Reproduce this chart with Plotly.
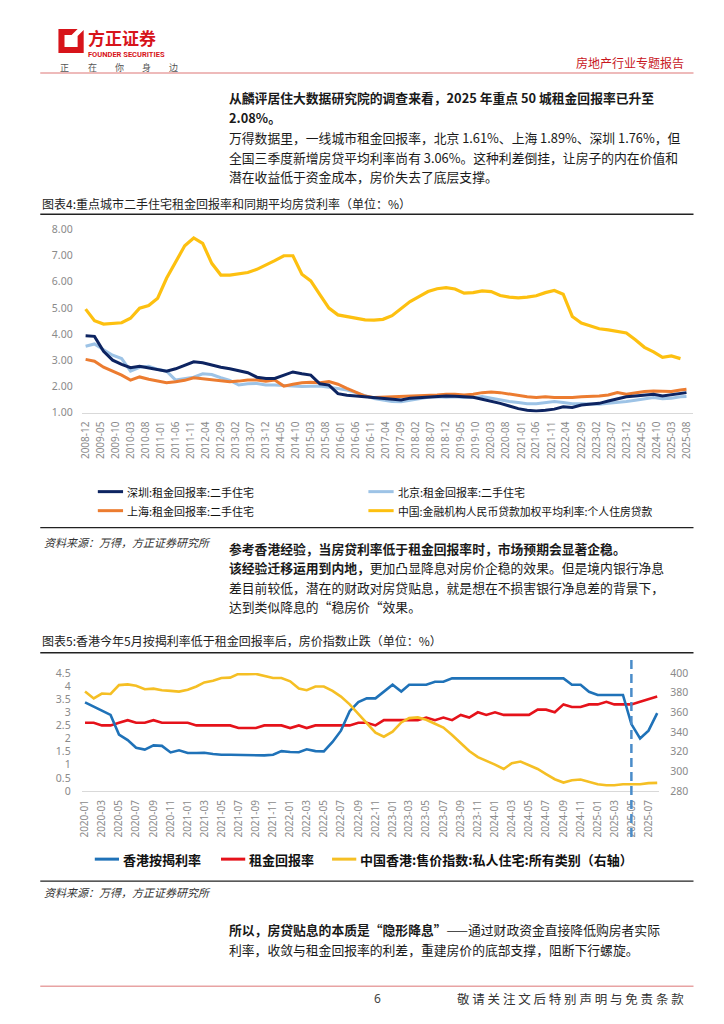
import pandas as pd
import plotly.graph_objects as go

W, H = 724, 1024
SHIFT, SCALE = 15, 0.985


def X(p):
    return (p - SHIFT) / SCALE / W


def Y(p):
    return 1 - (p - SHIFT) / SCALE / H


CJK = "Noto Sans CJK SC"

# ---- 图表4 数据 (季度取样) ----
q_dates = pd.date_range("2008-12-01", "2025-06-01", freq="3MS")
rent_dates = list(q_dates) + [pd.Timestamp("2025-08-01")]

mortgage_rate = [4.95, 4.51, 4.38, 4.41, 4.43, 4.60, 4.99, 5.09, 5.37, 6.13,
                 6.76, 7.37, 7.67, 7.46, 6.70, 6.25, 6.25, 6.30, 6.35, 6.47,
                 6.63, 6.80, 6.99, 6.99, 6.28, 6.03, 5.50, 4.99, 4.73, 4.67,
                 4.58, 4.54, 4.53, 4.56, 4.70, 4.99, 5.24, 5.43, 5.62, 5.73,
                 5.77, 5.72, 5.56, 5.58, 5.65, 5.62, 5.47, 5.41, 5.38, 5.41,
                 5.46, 5.58, 5.66, 5.52, 4.67, 4.42, 4.32, 4.20, 4.16, 4.10,
                 4.04, 3.78, 3.49, 3.32, 3.11, 3.16, 3.06]

shenzhen = [3.93, 3.91, 3.34, 3.00, 2.84, 2.71, 2.77, 2.71, 2.65, 2.58,
            2.67, 2.81, 2.94, 2.90, 2.81, 2.73, 2.67, 2.61, 2.52, 2.35,
            2.30, 2.30, 2.42, 2.55, 2.48, 2.43, 2.10, 2.05, 1.72, 1.66,
            1.63, 1.60, 1.55, 1.53, 1.51, 1.48, 1.55, 1.57, 1.60, 1.62,
            1.63, 1.62, 1.61, 1.58, 1.51, 1.44, 1.35, 1.25, 1.15, 1.09,
            1.06, 1.09, 1.13, 1.22, 1.19, 1.29, 1.32, 1.35, 1.44, 1.51,
            1.60, 1.63, 1.67, 1.70, 1.63, 1.67, 1.73, 1.76]

beijing = [3.53, 3.62, 3.40, 3.19, 3.06, 2.58, 2.73, 2.77, 2.65, 2.58,
           2.24, 2.30, 2.35, 2.48, 2.45, 2.33, 2.23, 2.05, 2.10, 2.11,
           2.05, 2.05, 2.04, 2.01, 1.99, 2.00, 2.01, 1.97, 1.92, 1.86,
           1.76, 1.63, 1.53, 1.48, 1.42, 1.41, 1.48, 1.53, 1.58, 1.60,
           1.58, 1.60, 1.57, 1.57, 1.61, 1.55, 1.47, 1.42, 1.38, 1.34,
           1.34, 1.38, 1.42, 1.38, 1.34, 1.34, 1.32, 1.32, 1.35, 1.38,
           1.42, 1.47, 1.53, 1.57, 1.53, 1.55, 1.60, 1.61]

shanghai = [3.03, 2.96, 2.73, 2.58, 2.43, 2.24, 2.36, 2.27, 2.20, 2.14,
            2.18, 2.23, 2.33, 2.29, 2.24, 2.22, 2.18, 2.20, 2.24, 2.24,
            2.20, 2.24, 2.01, 2.08, 2.14, 2.16, 2.14, 2.18, 2.08, 1.92,
            1.76, 1.63, 1.57, 1.58, 1.61, 1.62, 1.62, 1.63, 1.64, 1.67,
            1.70, 1.70, 1.67, 1.70, 1.76, 1.78, 1.76, 1.70, 1.66, 1.60,
            1.57, 1.60, 1.57, 1.57, 1.57, 1.60, 1.61, 1.63, 1.67, 1.76,
            1.70, 1.76, 1.80, 1.82, 1.80, 1.80, 1.86, 1.89]

# ---- 图表5 数据 (月度) ----
hk_months = pd.date_range("2020-01-01", "2025-08-01", freq="MS")

hk_mortgage = [3.38, 3.23, 3.06, 2.90, 2.15, 1.94, 1.65, 1.58, 1.74, 1.72,
               1.47, 1.55, 1.45, 1.45, 1.46, 1.41, 1.38, 1.38, 1.37, 1.36,
               1.36, 1.36, 1.38, 1.52, 1.49, 1.48, 1.59, 1.52, 1.51, 1.87,
               2.30, 3.04, 3.39, 3.53, 3.53, 3.78, 4.05, 3.79, 4.05, 4.05,
               4.05, 4.16, 4.16, 4.29, 4.29, 4.29, 4.29, 4.29, 4.29, 4.29,
               4.29, 4.29, 4.29, 4.29, 4.29, 4.29, 4.29, 4.05, 4.05, 3.78,
               3.66, 3.66, 3.66, 3.66, 2.55, 2.00, 2.30, 2.97]

hk_rent_yield = [2.6, 2.6, 2.5, 2.5, 2.6, 2.7, 2.6, 2.6, 2.7, 2.6,
                 2.6, 2.6, 2.6, 2.5, 2.5, 2.5, 2.5, 2.5, 2.4, 2.4,
                 2.4, 2.5, 2.5, 2.5, 2.4, 2.5, 2.4, 2.5, 2.5, 2.5,
                 2.5, 2.5, 2.6, 2.6, 2.5, 2.7, 2.7, 2.7, 2.7, 2.7,
                 2.8, 2.7, 2.8, 2.7, 2.9, 2.8, 3.0, 2.9, 3.0, 2.9,
                 2.9, 2.9, 2.9, 3.1, 3.1, 3.0, 3.3, 3.2, 3.2, 3.3,
                 3.3, 3.4, 3.3, 3.3, 3.3, 3.4, 3.5, 3.6]

hk_price_index = [381.0, 374.0, 379.0, 378.6, 387.6, 388.3, 387.0, 383.4, 384.0, 382.4,
                  381.7, 381.0, 382.8, 386.2, 390.3, 392.0, 394.8, 395.2, 399.0, 398.6,
                  399.0, 397.2, 394.8, 394.8, 391.4, 384.1, 382.4, 386.2, 386.2, 381.7,
                  375.9, 368.0, 358.6, 349.0, 339.3, 335.2, 340.3, 349.7, 354.1, 354.8,
                  352.4, 348.3, 344.5, 336.9, 328.3, 320.7, 314.5, 311.0, 306.9, 302.4,
                  308.3, 310.0, 305.9, 302.4, 297.2, 292.0, 288.6, 291.0, 291.7, 289.7,
                  286.9, 285.9, 285.9, 286.9, 286.9, 286.9, 288.0, 288.3]
policy_month = "2025-05-01"

C_NAVY, C_LBLUE, C_ORANGE, C_GOLD = "#0d2461", "#9dc3e6", "#ec7c30", "#fdc010"
C_BLUE, C_RED, C_YEL = "#1f72b8", "#e5121a", "#f5bf24"
TICK = dict(family="Noto Sans", size=10, color="#8a8a8a")
YTICK = dict(family="Noto Sans", size=10.5, color="#8a8a8a")

fig = go.Figure()
fig.add_trace(go.Scatter(x=q_dates, y=mortgage_rate, mode="lines", name="中国:金融机构人民币贷款加权平均利率:个人住房贷款",
                         line=dict(color=C_GOLD, width=3.2), xaxis="x", yaxis="y"))
fig.add_trace(go.Scatter(x=rent_dates, y=beijing, mode="lines", name="北京:租金回报率:二手住宅",
                         line=dict(color=C_LBLUE, width=3), xaxis="x", yaxis="y"))
fig.add_trace(go.Scatter(x=rent_dates, y=shanghai, mode="lines", name="上海:租金回报率:二手住宅",
                         line=dict(color=C_ORANGE, width=3), xaxis="x", yaxis="y"))
fig.add_trace(go.Scatter(x=rent_dates, y=shenzhen, mode="lines", name="深圳:租金回报率:二手住宅",
                         line=dict(color=C_NAVY, width=3), xaxis="x", yaxis="y"))

fig.add_trace(go.Scatter(x=hk_months, y=hk_price_index, mode="lines", name="中国香港:售价指数:私人住宅:所有类别（右轴）",
                         line=dict(color=C_YEL, width=2.6), xaxis="x2", yaxis="y3"))
fig.add_trace(go.Scatter(x=hk_months, y=hk_rent_yield, mode="lines", name="租金回报率",
                         line=dict(color=C_RED, width=2.6), xaxis="x2", yaxis="y2"))
fig.add_trace(go.Scatter(x=hk_months, y=hk_mortgage, mode="lines", name="香港按揭利率",
                         line=dict(color=C_BLUE, width=2.6), xaxis="x2", yaxis="y2"))

shapes = []
ann = []


def hline(y, x0=43, x1=690, color="#222", width=1.5):
    shapes.append(dict(type="line", xref="paper", yref="paper", x0=X(x0), x1=X(x1),
                       y0=Y(y), y1=Y(y), line=dict(color=color, width=width)))


def text(x, y, s, size=13, color="#222", anchor="left", family=CJK):
    ann.append(dict(xref="paper", yref="paper", x=X(x), y=Y(y), text=s, showarrow=False,
                    xanchor=anchor, yanchor="middle", font=dict(family=family, size=size, color=color)))


def legend_item(x, y, color, label, size=11, seg=25, width=3):
    shapes.append(dict(type="line", xref="paper", yref="paper", x0=X(x), x1=X(x + seg),
                       y0=Y(y), y1=Y(y), line=dict(color=color, width=width)))
    text(x + seg + 2, y, label, size=size, color="#111")


# header
pts = [(61, 29), (80, 29), (74, 35), (67, 35), (67, 47), (80, 47), (80, 36), (86, 30),
       (86, 53), (61, 53)]
path = "M " + " L ".join(f"{X(a):.5f},{Y(b):.5f}" for a, b in pts) + " Z"
shapes.append(dict(type="path", xref="paper", yref="paper", path=path,
                   fillcolor="#d7141a", line=dict(width=0)))
text(88, 37, "<b>方正证券</b>", size=17, color="#d7141a")
text(88, 54, "<b>FOUNDER SECURITIES</b>", size=7.5, color="#d7141a", family="Roboto")
for i, ch in enumerate("正在你身边"):
    text(61 + i * 27, 67, ch, size=9, color="#555")
text(683, 62, "房地产行业专题报告", size=12, color="#c8161d", anchor="right")
hline(73, color="#e8a3a3", width=1.5)

# 正文段落
body = [
    ("<b>从麟评居住大数据研究院的调查来看，2025 年重点 50 城租金回报率已升至</b>", 97),
    ("<b>2.08%。</b>", 117),
    ("万得数据里，一线城市租金回报率，北京 1.61%、上海 1.89%、深圳 1.76%，但", 137),
    ("全国三季度新增房贷平均利率尚有 3.06%。这种利差倒挂，让房子的内在价值和", 157),
    ("潜在收益低于资金成本，房价失去了底层支撑。", 176),
    ("<b>参考香港经验，当房贷利率低于租金回报率时，市场预期会显著企稳。</b>", 548),
    ("<b>该经验迁移运用到内地，</b>更加凸显降息对房价企稳的效果。但是境内银行净息", 567),
    ("差目前较低，潜在的财政对房贷贴息，就是想在不损害银行净息差的背景下，", 587),
    ("达到类似降息的“稳房价“效果。", 606),
    ("<b>所以，房贷贴息的本质是“隐形降息”</b>——通过财政资金直接降低购房者实际", 928),
    ("利率，收敛与租金回报率的利差，重建房价的底部支撑，阻断下行螺旋。", 948),
]
for s, y in body:
    text(228, y, s, size=12.8, color="#1a1a1a")

# chart 4 frame
text(43, 203, "图表4:重点城市二手住宅租金回报率和同期平均房贷利率（单位：%）", size=12, color="#222")
hline(214)
legend_item(100, 491, C_NAVY, "深圳:租金回报率:二手住宅")
legend_item(368, 491, C_LBLUE, "北京:租金回报率:二手住宅")
legend_item(100, 510, C_ORANGE, "上海:租金回报率:二手住宅")
legend_item(368, 510, C_GOLD, "中国:金融机构人民币贷款加权平均利率:个人住房贷款", size=10.8)
hline(527, width=1.2)
text(45, 541, "<i>资料来源：万得，方正证券研究所</i>", size=11, color="#333")

# chart 5 frame
text(43, 640, "图表5:香港今年5月按揭利率低于租金回报率后，房价指数止跌（单位：%）", size=12, color="#222")
hline(652)
legend_item(97, 858, C_BLUE, "<b>香港按揭利率</b>", size=13, seg=24)
legend_item(222, 858, C_RED, "<b>租金回报率</b>", size=13, seg=24)
legend_item(332, 858, C_YEL, "<b>中国香港:售价指数:私人住宅:所有类别（右轴）</b>", size=13, seg=24)
hline(880, width=1.2)
text(45, 891, "<i>资料来源：万得，方正证券研究所</i>", size=11, color="#333")

shapes.append(dict(type="line", xref="x2", yref="paper", x0=policy_month, x1=policy_month,
                   y0=Y(836), y1=Y(655), line=dict(color="#4a8cc9", width=2.5, dash="9px,5px")))

# footer
hline(985, color="#e8a3a3", width=1.5)
text(372, 997, "6", size=12, color="#444", family="Noto Sans")
text(683, 997, "敬 请 关 注 文 后 特 别 声 明 与 免 责 条 款", size=12.5, color="#333", anchor="right")

fig.update_layout(
    width=W, height=H, margin=dict(l=0, r=0, t=0, b=0),
    paper_bgcolor="white", plot_bgcolor="white", showlegend=False,
    font=dict(family=CJK),
    xaxis=dict(domain=[X(84), X(690)], anchor="y", type="date",
               range=["2008-10-22", "2025-10-11"],
               tickvals=pd.date_range("2008-12-01", "2025-08-01", freq="5MS"),
               tickformat="%Y-%m", tickangle=-90, tickfont=TICK, ticks="",
               showgrid=False, showline=True, linecolor="#d9d9d9", ticklabelstandoff=4),
    yaxis=dict(domain=[Y(412), Y(229)], anchor="x", range=[1, 8], dtick=1, tickformat=".2f",
               tickfont=YTICK, showgrid=False, zeroline=False, showline=False, ticklabelstandoff=8),
    xaxis2=dict(domain=[X(84), X(656)], anchor="y2", type="date",
                range=["2019-12-20", "2025-08-08"],
                tickvals=pd.date_range("2020-01-01", "2025-07-01", freq="2MS"),
                tickformat="%Y-%m", tickangle=-90, tickfont=TICK, ticks="",
                showgrid=False, showline=True, linecolor="#d9d9d9", ticklabelstandoff=4),
    yaxis2=dict(domain=[Y(790), Y(672)], anchor="x2", range=[0, 4.5], dtick=0.5,
                tickfont=YTICK, showgrid=False, zeroline=False, ticklabelstandoff=10),
    yaxis3=dict(overlaying="y2", side="right", anchor="x2", range=[280, 400], dtick=20,
                tickfont=YTICK, showgrid=False, zeroline=False, ticklabelstandoff=10),
    shapes=shapes, annotations=ann,
)

fig.write_html("out.html")
